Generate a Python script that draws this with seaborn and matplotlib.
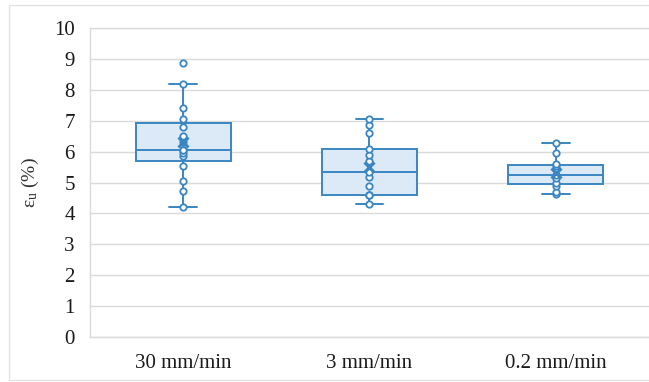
import matplotlib
matplotlib.use("Agg")
import matplotlib.pyplot as plt
import matplotlib.patches as mpatches
import numpy as np
import pandas as pd
import seaborn as sns

# ---- data ----
categories = ["30 mm/min", "3 mm/min", "0.2 mm/min"]
eu_30mm = [4.20, 4.72, 5.06, 5.55, 5.87, 5.95, 6.05, 6.05, 6.30, 6.52, 6.80, 7.04, 7.41, 8.20, 8.86]
eu_3mm = [4.29, 4.60, 4.60, 4.61, 4.88, 5.18, 5.34, 5.69, 5.90, 6.09, 6.60, 6.86, 7.05]
eu_02mm = [4.63, 4.70, 4.88, 5.00, 5.15, 5.23, 5.45, 5.55, 5.60, 5.97, 6.28]
y_ticks = [0, 1, 2, 3, 4, 5, 6, 7, 8, 9, 10]
y_label = r"$\mathrm{ε_u}$ (%)"

df = pd.DataFrame({
    "rate": [categories[0]] * len(eu_30mm) + [categories[1]] * len(eu_3mm) + [categories[2]] * len(eu_02mm),
    "eu": eu_30mm + eu_3mm + eu_02mm,
})

# ---- style ----
sns.set_theme(style="white")
plt.rcParams["font.family"] = ["Liberation Serif", "DejaVu Serif"]
plt.rcParams["mathtext.fontset"] = "custom"
plt.rcParams["mathtext.rm"] = "Liberation Serif"
plt.rcParams["mathtext.it"] = "Liberation Serif:italic"

edge = "#3a86c2"
fill = "#dce9f6"
grid = "#dadada"

fig = plt.figure(figsize=(6.49, 3.82), dpi=100)
fig.patch.set_facecolor("white")
# outer chart frame
fig.add_artist(mpatches.Rectangle((9 / 649, 2 / 382), 1.2, 375 / 382, transform=fig.transFigure,
                                  fill=False, edgecolor="#e3e3e3", linewidth=1.0))

ax = fig.add_axes([90 / 649, 45 / 382, 559 / 649, 309 / 382])

sns.boxplot(data=df, x="rate", y="eu", order=categories, width=0.51, showfliers=False,
            color=fill, linecolor=edge, linewidth=1.4, saturation=1, whis=1.5,
            capwidths=0.15, ax=ax)
sns.stripplot(data=df, x="rate", y="eu", order=categories, jitter=False, size=4.6,
              color="white", edgecolor=edge, linewidth=1.3, ax=ax, zorder=4)
sns.pointplot(data=df, x="rate", y="eu", order=categories, estimator="mean", errorbar=None,
              marker="x", linestyle="none", color=edge, markersize=7.5, markeredgewidth=2.2,
              ax=ax, zorder=5)

ax.set_ylim(0, 10)
ax.set_yticks(y_ticks)
ax.set_yticklabels([str(t) for t in y_ticks])
ax.set_xlim(-0.5, 2.5)
ax.grid(axis="y", color=grid, linewidth=1.0)
ax.grid(axis="x", visible=False)
ax.set_axisbelow(True)
for s in ax.spines.values():
    s.set_color(grid)
    s.set_linewidth(1.0)
ax.spines["right"].set_visible(False)

ax.tick_params(axis="both", length=0, labelsize=15, colors="#1a1a1a")
ax.tick_params(axis="y", pad=11)
ax.tick_params(axis="x", pad=12)
ax.set_xlabel("")
ax.set_ylabel(y_label, fontsize=14, color="#333333", labelpad=9)

fig.savefig("out.png", dpi=100, facecolor="white")
